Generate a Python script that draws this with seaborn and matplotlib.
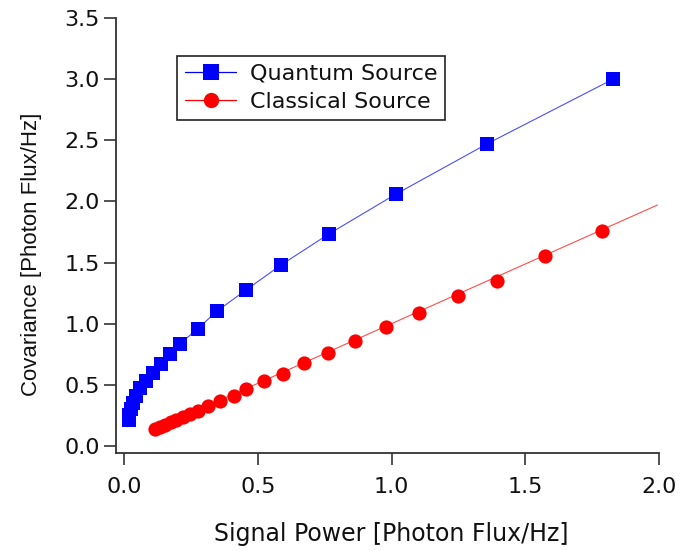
import matplotlib
matplotlib.use("Agg")
import matplotlib.pyplot as plt
from matplotlib.lines import Line2D
import seaborn as sns
import pandas as pd

quantum_x = [0.017, 0.020, 0.026, 0.034, 0.045, 0.060, 0.082, 0.108, 0.140, 0.170,
             0.209, 0.276, 0.349, 0.456, 0.587, 0.767, 1.017, 1.357, 1.829]
quantum_y = [0.21, 0.25, 0.30, 0.35, 0.41, 0.47, 0.53, 0.60, 0.67, 0.75,
             0.835, 0.96, 1.105, 1.275, 1.48, 1.735, 2.06, 2.47, 3.00]

classical_x = [0.116, 0.135, 0.155, 0.175, 0.195, 0.22, 0.245, 0.275, 0.315, 0.36,
               0.41, 0.456, 0.524, 0.593, 0.671, 0.761, 0.864, 0.98, 1.103, 1.249,
               1.395, 1.574, 1.786]
classical_y = [0.137, 0.155, 0.175, 0.195, 0.21, 0.235, 0.26, 0.285, 0.325, 0.365,
               0.412, 0.465, 0.527, 0.592, 0.68, 0.762, 0.86, 0.973, 1.09, 1.226,
               1.35, 1.553, 1.76]

classical_fit_x = [0.116, 1.994]
classical_fit_y = [0.137, 1.97]

x_ticks = [0.0, 0.5, 1.0, 1.5, 2.0]
y_ticks = [0.0, 0.5, 1.0, 1.5, 2.0, 2.5, 3.0, 3.5]

sns.set_theme(style="white")
plt.rcParams['font.family'] = ['DejaVu Sans']

fig = plt.figure(figsize=(6.82, 5.51), dpi=100)
ax = fig.add_axes([0.1697, 0.178, 0.7966, 0.7895])

dq = pd.DataFrame({"x": quantum_x, "y": quantum_y})
dc = pd.DataFrame({"x": classical_x, "y": classical_y})
df = pd.DataFrame({"x": classical_fit_x, "y": classical_fit_y})

sns.lineplot(data=dq, x="x", y="y", ax=ax, color="#0000ff", linewidth=0.8,
             alpha=0.7, sort=False, estimator=None)
sns.lineplot(data=df, x="x", y="y", ax=ax, color="#ff0000", linewidth=0.8,
             alpha=0.7, sort=False, estimator=None)
sns.scatterplot(data=dq, x="x", y="y", ax=ax, marker="s", color="#0000ff",
                s=95, linewidth=0, zorder=3)
sns.scatterplot(data=dc, x="x", y="y", ax=ax, marker="o", color="#ff0000",
                s=105, linewidth=0, zorder=3)

ax.set_xlim(-0.031, 2.0)
ax.set_ylim(-0.057, 3.5)
ax.set_xticks(x_ticks)
ax.set_yticks(y_ticks)
ax.set_xticklabels([f"{v:.1f}" for v in x_ticks])
ax.set_yticklabels([f"{v:.1f}" for v in y_ticks])

for side in ["top", "right"]:
    ax.spines[side].set_visible(False)
for side in ["left", "bottom"]:
    ax.spines[side].set_color("#333333")
    ax.spines[side].set_linewidth(1.3)

ax.tick_params(axis="both", direction="out", length=8.5, width=1.2,
               color="#333333", labelsize=16, labelcolor="#111111",
               left=True, bottom=True)
ax.tick_params(axis="y", pad=3)
ax.tick_params(axis="x", pad=9)

ax.set_xlabel("Signal Power [Photon Flux/Hz]", fontsize=17, color="#111111")
ax.xaxis.set_label_coords(0.507, -0.158)
ax.set_ylabel("Covariance [Photon Flux/Hz]", fontsize=16, color="#111111",
              family=['Liberation Sans', 'DejaVu Sans'])
ax.yaxis.set_label_coords(-0.135, 0.457)

handles = [
    Line2D([0], [0], color="#0000ff", linewidth=0.9, marker="s", markersize=11,
           markerfacecolor="#0000ff", markeredgewidth=0),
    Line2D([0], [0], color="#ff0000", linewidth=0.9, marker="o", markersize=11,
           markerfacecolor="#ff0000", markeredgewidth=0),
]
leg = ax.legend(handles, ["Quantum Source", "Classical Source"],
                loc="upper left", bbox_to_anchor=(0.1134, 0.913),
                fontsize=16, frameon=True, fancybox=False, framealpha=1,
                edgecolor="#222222", handlelength=2.3, handletextpad=0.6,
                borderpad=0.36, labelspacing=0.37, borderaxespad=0)
leg.get_frame().set_linewidth(1.2)
for t in leg.get_texts():
    t.set_color("#111111")

fig.savefig("out.png", dpi=100)
